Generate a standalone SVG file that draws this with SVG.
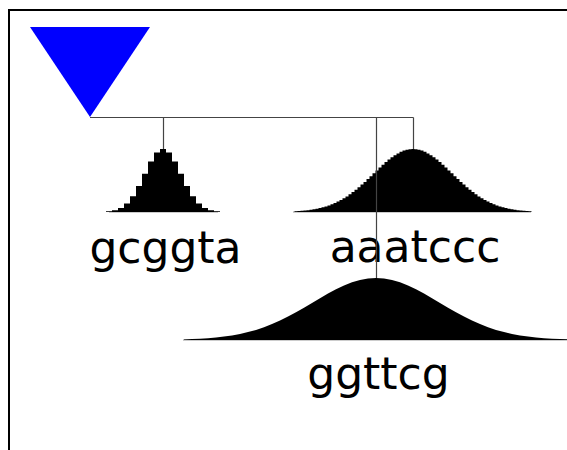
<svg xmlns="http://www.w3.org/2000/svg" width="567" height="450" viewBox="0 0 567 450">
<style>
.lbl{font-family:"DejaVu Sans","Liberation Sans",sans-serif;font-size:44px;fill:#000;text-anchor:middle}
.base{stroke:#999;stroke-width:1;fill:none}
.dist{fill:#000;stroke:none}
.conn{stroke:#444;stroke-width:1.2;fill:none}
</style>
<rect x="0" y="0" width="567" height="450" fill="#fff"/>
<rect x="9" y="10" width="620" height="500" fill="none" stroke="#000" stroke-width="2"/>
<g id="root">
<polygon points="30,27 150,27 90,117" fill="#0000ff"/>
</g>
<g id="node-gcggta">
<line class="base" x1="109" y1="212" x2="218" y2="212"/>
<path class="dist" d="M106,212 V211.3 H112 V210.2 H118 V207.9 H124 V203.5 H130 V196.3 H136 V186.1 H142 V173.8 H148 V161.5 H154 V152.4 H160 V149 H166 V152.4 H172 V161.5 H178 V173.8 H184 V186.1 H190 V196.3 H196 V203.5 H202 V207.9 H208 V210.2 H214 V211.3 H220 V212 Z"/>
<text class="lbl" x="165.5" y="263">gcggta</text>
</g>
<g id="node-aaatccc">
<line class="base" x1="293" y1="212" x2="531" y2="212"/>
<path class="dist" d="M294.5,212 V211.2 H297.5 V211.0 H300.5 V210.8 H303.5 V210.5 H306.5 V210.2 H309.5 V209.8 H312.5 V209.3 H315.5 V208.7 H318.5 V208.1 H321.5 V207.3 H324.5 V206.4 H327.5 V205.4 H330.5 V204.3 H333.5 V203.0 H336.5 V201.6 H339.5 V200.0 H342.5 V198.3 H345.5 V196.4 H348.5 V194.3 H351.5 V192.1 H354.5 V189.8 H357.5 V187.3 H360.5 V184.6 H363.5 V181.9 H366.5 V179.1 H369.5 V176.2 H372.5 V173.3 H375.5 V170.4 H378.5 V167.6 H381.5 V164.8 H384.5 V162.1 H387.5 V159.6 H390.5 V157.3 H393.5 V155.2 H396.5 V153.4 H399.5 V151.8 H402.5 V150.6 H405.5 V149.7 H408.5 V149.2 H411.5 V149.0 H414.5 V149.2 H417.5 V149.7 H420.5 V150.6 H423.5 V151.8 H426.5 V153.4 H429.5 V155.2 H432.5 V157.3 H435.5 V159.6 H438.5 V162.1 H441.5 V164.8 H444.5 V167.6 H447.5 V170.4 H450.5 V173.3 H453.5 V176.2 H456.5 V179.1 H459.5 V181.9 H462.5 V184.6 H465.5 V187.3 H468.5 V189.8 H471.5 V192.1 H474.5 V194.3 H477.5 V196.4 H480.5 V198.3 H483.5 V200.0 H486.5 V201.6 H489.5 V203.0 H492.5 V204.3 H495.5 V205.4 H498.5 V206.4 H501.5 V207.3 H504.5 V208.1 H507.5 V208.7 H510.5 V209.3 H513.5 V209.8 H516.5 V210.2 H519.5 V210.5 H522.5 V210.8 H525.5 V211.0 H528.5 V211.2 H531.5 V212 Z"/>
<text class="lbl" x="415" y="262">aaatccc</text>
</g>
<g id="node-ggttcg">
<line class="base" x1="183" y1="340" x2="567" y2="340"/>
<polygon class="dist" points="184,340 184,339.4 192,339.1 200,338.7 208,338.2 216,337.5 224,336.6 232,335.5 240,334.0 248,332.1 256,329.9 264,327.2 272,324.1 280,320.6 288,316.6 296,312.3 304,307.7 312,303.0 320,298.2 328,293.6 336,289.3 344,285.5 352,282.3 360,280.0 368,278.5 376,278.0 384,278.5 392,280.0 400,282.3 408,285.5 416,289.3 424,293.6 432,298.2 440,303.0 448,307.7 456,312.3 464,316.6 472,320.6 480,324.1 488,327.2 496,329.9 504,332.1 512,334.0 520,335.5 528,336.6 536,337.5 544,338.2 552,338.7 560,339.1 568,339.4 568,340"/>
<text class="lbl" x="378.5" y="389">ggttcg</text>
</g>
<g id="connectors">
<line class="conn" x1="90" y1="117.5" x2="413.5" y2="117.5"/>
<line class="conn" x1="163.5" y1="117.5" x2="163.5" y2="149"/>
<line class="conn" x1="413.5" y1="117.5" x2="413.5" y2="149"/>
<line class="conn" x1="376.5" y1="117.5" x2="376.5" y2="278"/>
</g>
</svg>
